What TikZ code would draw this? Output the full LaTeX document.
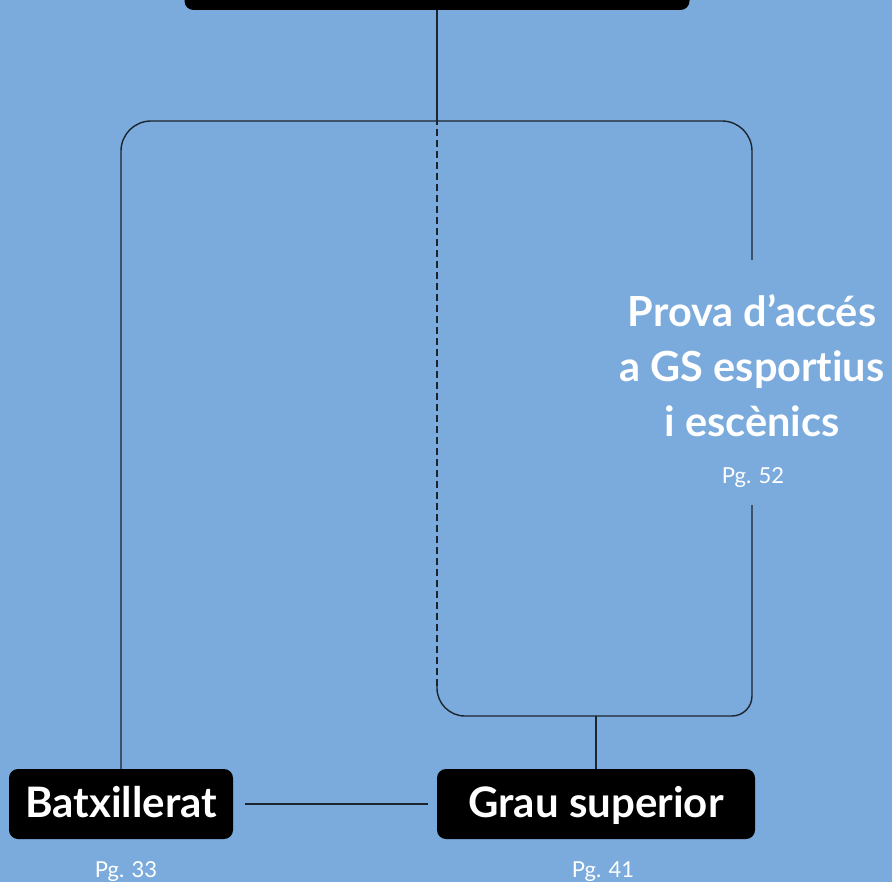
\documentclass[tikz,border=0pt]{standalone}
\usepackage{fontspec}
\setmainfont{Lato}[Ligatures=NoCommon]
\usepackage{color}
\definecolor{myskyblue}{RGB}{122,171,220}
\definecolor{myink}{RGB}{28,36,46}
\usepackage{tikz}
\usetikzlibrary{calc,positioning}
\tikzstyle{stagebox}=[fill=black,text=white,rounded corners=9pt,inner sep=0pt,minimum height=70pt,text height=34pt,text depth=8pt,font=\fontsize{42}{50}\selectfont\bfseries]
\tikzstyle{pagelabel}=[text=white,anchor=base,inner sep=0pt,font=\fontsize{22}{26}\selectfont]
\tikzstyle{connector}=[draw=myink,line width=1.4pt]

\begin{document}
\begin{tikzpicture}[x=1pt,y=-1pt]
\useasboundingbox (0,0) rectangle (892,882);
\fill[myskyblue] (0,0) rectangle (892,882);
\clip (0,0) rectangle (892,882);
\node [stagebox, minimum width=505pt, minimum height=60pt] (top) at (437,-20) {};
\node [stagebox, minimum width=224pt] (batx) at (121,804) {Batxillerat};
\node [stagebox, minimum width=318pt] (grau) at (596,804) {Grau superior};
\node [text=white, align=center, anchor=base, inner sep=0pt, font=\fontsize{41.5}{55}\selectfont\bfseries] (prova) at (752,437) {Prova d’accés\\a GS esportius\\i escènics};
\node [pagelabel] (provapg) at (753,483) {Pg. 52};
\node [pagelabel] (batxpg) at (126,877) {Pg. 33};
\node [pagelabel] (graupg) at (603,877) {Pg. 41};
\coordinate (split) at (437,121);
\coordinate (provain) at (752,260);
\coordinate (provaout) at (752,505);
\coordinate (merge) at (596,716);
\coordinate (dashend) at (437,686);
\draw [connector] (top.south) -- (split);
\draw [connector, rounded corners=30pt] (split) -| (batx.north);
\draw [connector, rounded corners=30pt] (split) -| (provain);
\draw [connector, rounded corners=20pt] (provaout) |- (merge);
\draw [connector, rounded corners=28pt] (merge) -| (dashend);
\draw [connector, dash pattern=on 7pt off 4pt] (dashend) -- (split);
\draw [connector] (merge) -- (grau.north);
\draw [connector] ([xshift=12pt]batx.east) -- ([xshift=-9pt]grau.west);
\end{tikzpicture}
\end{document}
